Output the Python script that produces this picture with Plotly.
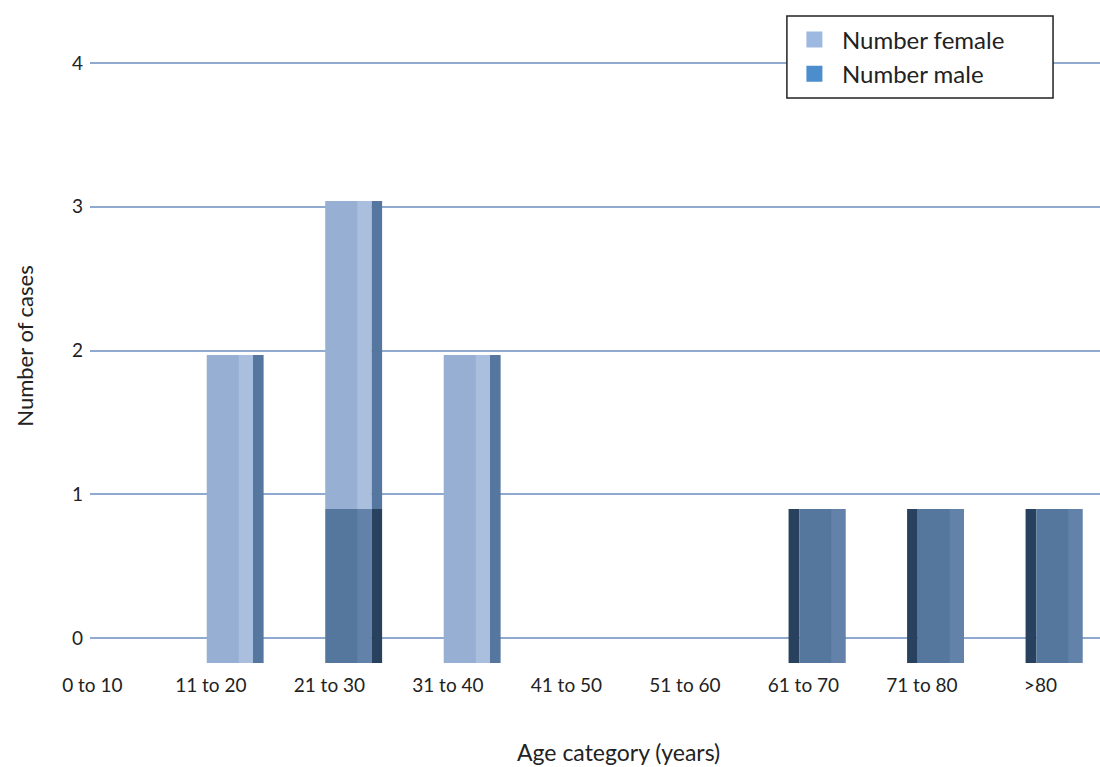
import plotly.graph_objects as go

# Age bands and case counts
categories = ["0 to 10", "11 to 20", "21 to 30", "31 to 40", "41 to 50",
              "51 to 60", "61 to 70", "71 to 80", ">80"]
female = [0, 2, 2, 2, 0, 0, 0, 0, 0]
male = [0, 0, 1, 0, 0, 0, 1, 1, 1]
y_ticks = [0, 1, 2, 3, 4]

# Styling
FEMALE_FRONT = "#96afd2"
FEMALE_SHINE = "#a9bfdd"
FEMALE_SIDE = "#55769f"
MALE_FRONT = "#55779e"
MALE_SHINE = "#6282a9"
MALE_SIDE = "#27415f"
FEMALE_KEY = "#9db9e1"
MALE_KEY = "#4c8dcd"
GRID = "#8fa9cf"
TEXT = "#222222"
FONT = "Lato"

FRONT_W = 0.39
FRONT_OFF = -0.035
SIDE_W = 0.09
SHINE_W = 0.12
n = len(categories)
# the depth face sits right of the bar on the left half of the chart, left of it on the right half
side_off = [FRONT_OFF + FRONT_W if i < 6 else FRONT_OFF - SIDE_W for i in range(n)]
# a lighter band on the front face, along its right edge
shine_off = FRONT_OFF + FRONT_W - SHINE_W

zero_base = [0] * n
female_base = male  # female cases stack on top of male cases

fig = go.Figure()


def face(values, base, width, offset, color):
    return go.Bar(x=categories, y=values, base=base, width=width, offset=offset,
                  marker=dict(color=color, line=dict(width=0)), yaxis="y2",
                  showlegend=False, hoverinfo="skip")


# depth (side) faces
fig.add_trace(face(male, zero_base, SIDE_W, side_off, MALE_SIDE))
fig.add_trace(face(female, female_base, SIDE_W, side_off, FEMALE_SIDE))
# front faces
fig.add_trace(face(male, zero_base, FRONT_W, FRONT_OFF, MALE_FRONT))
fig.add_trace(face(female, female_base, FRONT_W, FRONT_OFF, FEMALE_FRONT))
# highlight bands
fig.add_trace(face(male, zero_base, SHINE_W, shine_off, MALE_SHINE))
fig.add_trace(face(female, female_base, SHINE_W, shine_off, FEMALE_SHINE))

# legend keys
fig.add_trace(go.Scatter(x=[None], y=[None], mode="markers", name="Number female",
                         marker=dict(symbol="square", size=16, color=FEMALE_KEY)))
fig.add_trace(go.Scatter(x=[None], y=[None], mode="markers", name="Number male",
                         marker=dict(symbol="square", size=16, color=MALE_KEY)))

fig.update_layout(
    width=1100, height=767,
    margin=dict(l=90, r=0, t=20, b=95),
    paper_bgcolor="white", plot_bgcolor="white",
    barmode="overlay",
    font=dict(family=FONT, color=TEXT, size=19),
    showlegend=True,
    legend=dict(
        x=0.69, y=1.004, xanchor="left", yanchor="top",
        bgcolor="rgba(0,0,0,0)", borderwidth=0,
        font=dict(size=24, color=TEXT), traceorder="normal",
        itemsizing="trace", itemwidth=45, tracegroupgap=0,
    ),
    # framed white panel behind the legend
    shapes=[dict(
        type="rect", xref="paper", yref="paper", layer="above",
        x0=0.690, x1=0.9535, y0=0.8804, y1=1.0061,
        fillcolor="white", line=dict(color="#222222", width=1.5),
    )],
    xaxis=dict(
        type="category", categoryorder="array", categoryarray=categories,
        range=[-0.02, 8.503], showgrid=False, zeroline=False, showline=False,
        ticks="", tickfont=dict(size=19, color=TEXT),
    ),
    yaxis=dict(
        range=[-0.2365, 4.2992], tickvals=y_ticks, showgrid=True, gridcolor=GRID,
        gridwidth=2, zeroline=False, showline=False, ticks="",
        ticklabelstandoff=6,
        tickfont=dict(size=19, color=TEXT),
        title=dict(text="Number of cases", font=dict(size=22, color=TEXT), standoff=32),
    ),
    yaxis2=dict(
        overlaying="y", range=[-0.0584, 4.1754], visible=False,
    ),
    annotations=[dict(
        text="Age category (years)", xref="paper", yref="paper",
        x=0.523, y=-0.1227, xanchor="center", yanchor="middle", showarrow=False,
        font=dict(size=23, color=TEXT),
    )],
)

fig.write_html("out.html")
